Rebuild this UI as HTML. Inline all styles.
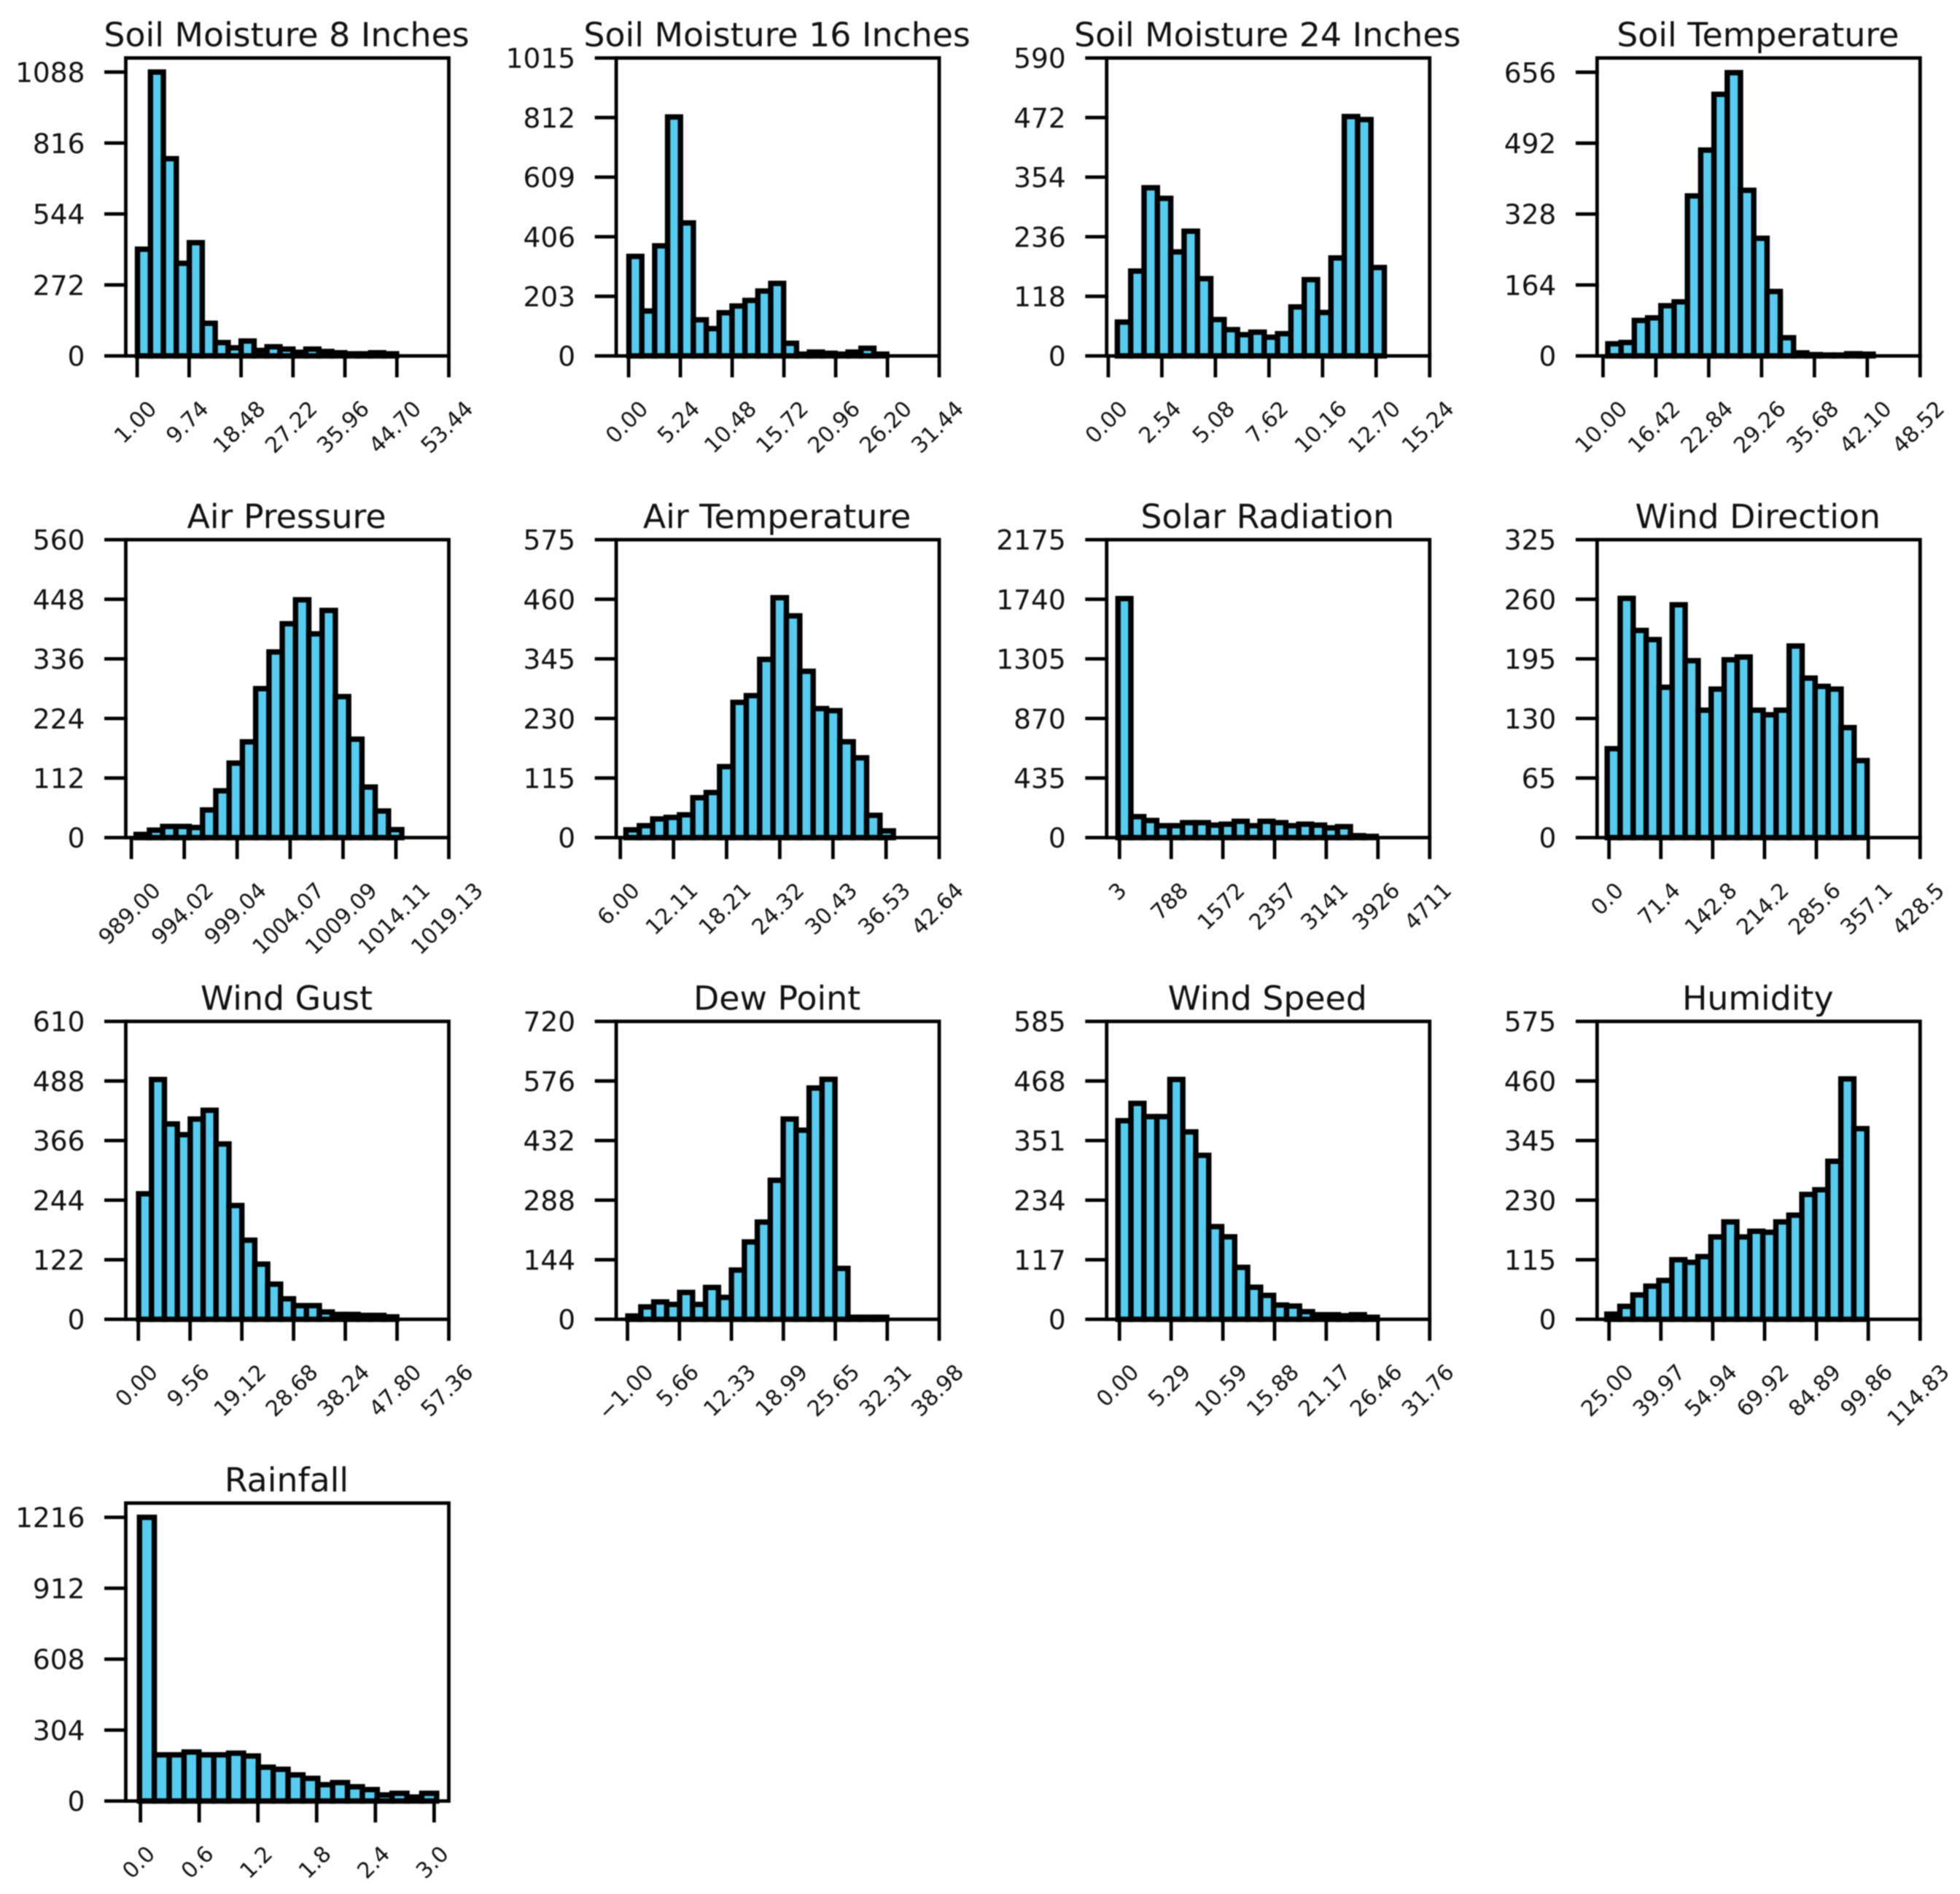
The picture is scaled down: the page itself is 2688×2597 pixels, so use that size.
<!DOCTYPE html>
<html lang="en">
<head>
<meta charset="utf-8">
<title>Weather Feature Histograms</title>
<style>
html,body{margin:0;padding:0;background:#fff;}
#chart{display:block;width:2688px;height:2597px;filter:blur(0.8px);}
text{font-family:"DejaVu Sans","Liberation Sans",sans-serif;fill:#111;}
</style>
</head>
<body>
<svg id="chart" xmlns="http://www.w3.org/2000/svg" width="2688" height="2597" viewBox="0 0 2688 2597"></svg>
<script>
const soilMoisture8Counts=[409,1088,756,355,434,125,51,31,57,21,35,26,14,26,17,12,8,8,12,8];
const soilMoisture16Counts=[339,153,375,814,453,123,93,147,170,189,221,247,43,6,13,9,6,13,26,6];
const soilMoisture24Counts=[67,168,333,312,206,247,153,72,52,42,47,37,44,97,151,86,194,474,468,175];
const soilTemperatureCounts=[28,31,82,88,116,125,370,476,605,655,383,272,149,42,7,3,2,2,5,4];
const airPressureCounts=[6,14,21,21,19,52,88,140,180,280,349,402,447,383,427,265,185,95,50,15];
const airTemperatureCounts=[15,23,36,39,44,77,87,137,261,274,344,463,428,321,249,245,185,154,43,13];
const solarRadiationCounts=[1745,153,125,87,87,109,109,91,98,119,87,119,109,87,98,91,71,80,14,9];
const windDirectionCounts=[97,261,226,216,164,254,193,139,162,194,197,139,134,139,209,174,165,162,120,84];
const windGustCounts=[257,491,400,378,410,428,359,233,162,113,72,42,28,28,15,10,10,8,8,5];
const dewPointCounts=[8,30,42,36,65,36,77,53,119,187,235,336,484,457,559,580,123,5,5,5];
const windSpeedCounts=[390,424,398,398,471,368,322,182,162,102,63,47,28,26,15,9,9,7,9,4];
const humidityCounts=[10,25,47,64,75,115,110,121,159,188,159,170,168,188,201,241,250,305,464,368];
const rainfallCounts=[1216,198,198,210,198,198,205,193,145,136,112,97,70,79,61,49,26,33,17,33];

const soilMoisture8YTicks=["0","272","544","816","1088"];
const soilMoisture16YTicks=["0","203","406","609","812","1015"];
const soilMoisture24YTicks=["0","118","236","354","472","590"];
const soilTemperatureYTicks=["0","164","328","492","656"];
const airPressureYTicks=["0","112","224","336","448","560"];
const airTemperatureYTicks=["0","115","230","345","460","575"];
const solarRadiationYTicks=["0","435","870","1305","1740","2175"];
const windDirectionYTicks=["0","65","130","195","260","325"];
const windGustYTicks=["0","122","244","366","488","610"];
const dewPointYTicks=["0","144","288","432","576","720"];
const windSpeedYTicks=["0","117","234","351","468","585"];
const humidityYTicks=["0","115","230","345","460","575"];
const rainfallYTicks=["0","304","608","912","1216"];

const soilMoisture8XTicks=["1.00","9.74","18.48","27.22","35.96","44.70","53.44"];
const soilMoisture16XTicks=["0.00","5.24","10.48","15.72","20.96","26.20","31.44"];
const soilMoisture24XTicks=["0.00","2.54","5.08","7.62","10.16","12.70","15.24"];
const soilTemperatureXTicks=["10.00","16.42","22.84","29.26","35.68","42.10","48.52"];
const airPressureXTicks=["989.00","994.02","999.04","1004.07","1009.09","1014.11","1019.13"];
const airTemperatureXTicks=["6.00","12.11","18.21","24.32","30.43","36.53","42.64"];
const solarRadiationXTicks=["3","788","1572","2357","3141","3926","4711"];
const windDirectionXTicks=["0.0","71.4","142.8","214.2","285.6","357.1","428.5"];
const windGustXTicks=["0.00","9.56","19.12","28.68","38.24","47.80","57.36"];
const dewPointXTicks=["\u22121.00","5.66","12.33","18.99","25.65","32.31","38.98"];
const windSpeedXTicks=["0.00","5.29","10.59","15.88","21.17","26.46","31.76"];
const humidityXTicks=["25.00","39.97","54.94","69.92","84.89","99.86","114.83"];
const rainfallXTicks=["0.0","0.6","1.2","1.8","2.4","3.0"];

const panelTitles=["Soil Moisture 8 Inches","Soil Moisture 16 Inches","Soil Moisture 24 Inches","Soil Temperature","Air Pressure","Air Temperature","Solar Radiation","Wind Direction","Wind Gust","Dew Point","Wind Speed","Humidity","Rainfall"];
const panelCounts=[soilMoisture8Counts,soilMoisture16Counts,soilMoisture24Counts,soilTemperatureCounts,airPressureCounts,airTemperatureCounts,solarRadiationCounts,windDirectionCounts,windGustCounts,dewPointCounts,windSpeedCounts,humidityCounts,rainfallCounts];
const panelYTicks=[soilMoisture8YTicks,soilMoisture16YTicks,soilMoisture24YTicks,soilTemperatureYTicks,airPressureYTicks,airTemperatureYTicks,solarRadiationYTicks,windDirectionYTicks,windGustYTicks,dewPointYTicks,windSpeedYTicks,humidityYTicks,rainfallYTicks];
const panelXTicks=[soilMoisture8XTicks,soilMoisture16XTicks,soilMoisture24XTicks,soilTemperatureXTicks,airPressureXTicks,airTemperatureXTicks,solarRadiationXTicks,windDirectionXTicks,windGustXTicks,dewPointXTicks,windSpeedXTicks,humidityXTicks,rainfallXTicks];
const panelBinStarts=[1.05,0.03,0.43,10.58,989.45,6.65,-20,-2.5,0.05,-0.95,-0.15,24.37,-0.01];
const panelBinWidths=[2.18,1.305,0.633,1.612,1.261,1.536,196,17.9,2.385,1.66,1.3275,3.754,0.1518];
const panelXMins=[-0.92,-1.255,-0.077,9.28,988.47,5.53,-192,-16.4,-2.32,-2.445,-1.31,21.55,-0.15];
const panelXMaxs=[53.44,31.44,15.24,48.52,1019.13,42.64,4711,428.5,57.36,38.98,31.76,114.83,3.15];
const panelYMaxs=[1142,1015,590,689,560,575,2175,325,610,720,585,575,1277];

const svg=document.getElementById('chart');
const NS='http://www.w3.org/2000/svg';
const plotLeft0=172.5,colPitch=672.6,plotW=443;
const plotTop0=79.5,rowPitch=660.5,plotH=408.5;
const barFill='#56cdf0',ink='#000',spineW=4.8,tickW=4.8,tickLen=27,barStroke=7.4;
const yFont=37.5,xFont=30,titleFont=45.8;

function make(tag,parent){
  const el=document.createElementNS(NS,tag);
  parent.appendChild(el);
  return el;
}
function line(parent,x1,y1,x2,y2,w){
  const el=make('line',parent);
  el.setAttribute('x1',x1);
  el.setAttribute('y1',y1);
  el.setAttribute('x2',x2);
  el.setAttribute('y2',y2);
  el.setAttribute('stroke',ink);
  el.setAttribute('stroke-width',w);
  el.setAttribute('stroke-linecap','square');
  return el;
}
function slug(s){return s.toLowerCase().replace(/\s+/g,'-');}
function tickValue(s){return parseFloat(s.replace('\u2212','-'));}

panelTitles.forEach(function(title,i){
  const left=plotLeft0+(i%4)*colPitch;
  const top=plotTop0+Math.floor(i/4)*rowPitch;
  const bottom=top+plotH;
  const right=left+plotW;
  const xMin=panelXMins[i],xMax=panelXMaxs[i],yMax=panelYMaxs[i];
  const xScale=function(v){return left+(v-xMin)/(xMax-xMin)*plotW;};
  const yScale=function(v){return bottom-v/yMax*plotH;};

  const g=make('g',svg);
  
  

  const t=make('text',g);
  t.textContent=title;
  t.setAttribute('x',left+plotW/2-1);
  t.setAttribute('y',top-16);
  t.setAttribute('text-anchor','middle');
  t.setAttribute('font-size',titleFont);
  
  

  const bars=make('g',g);
  
  
  panelCounts[i].forEach(function(count,b){
    const x0=xScale(panelBinStarts[i]+b*panelBinWidths[i]);
    const x1=xScale(panelBinStarts[i]+(b+1)*panelBinWidths[i]);
    const r=make('rect',bars);
    r.setAttribute('x',x0);
    r.setAttribute('y',yScale(count));
    r.setAttribute('width',x1-x0);
    r.setAttribute('height',bottom-yScale(count));
    r.setAttribute('fill',barFill);
    r.setAttribute('stroke',ink);
    r.setAttribute('stroke-width',barStroke);
    r.setAttribute('stroke-linejoin','miter');
    
    
  });

  const yAxis=make('g',g);
  
  
  panelYTicks[i].forEach(function(label){
    const y=yScale(tickValue(label));
    const tick=line(yAxis,left-tickLen,y,left,y,tickW);
    
    
    const tx=make('text',yAxis);
    tx.textContent=label;
    tx.setAttribute('x',left-56);
    tx.setAttribute('y',y+yFont*0.365);
    tx.setAttribute('text-anchor','end');
    tx.setAttribute('font-size',yFont);
    
    
  });

  const xAxis=make('g',g);
  
  
  panelXTicks[i].forEach(function(label){
    const x=xScale(tickValue(label));
    const tick=line(xAxis,x,bottom,x,bottom+tickLen,tickW);
    
    
    const tx=make('text',xAxis);
    tx.textContent=label;
    tx.setAttribute('text-anchor','middle');
    tx.setAttribute('font-size',xFont);
    const w=tx.getComputedTextLength();
    const half=(w+xFont)*0.7071/2;
    const cx=x-3;
    const cy=bottom+56+half;
    tx.setAttribute('x',cx);
    tx.setAttribute('y',cy+xFont*0.365);
    tx.setAttribute('transform','rotate(-45 '+cx+' '+cy+')');
    
    
  });

  const frame=make('rect',g);
  frame.setAttribute('x',left);
  frame.setAttribute('y',top);
  frame.setAttribute('width',plotW);
  frame.setAttribute('height',plotH);
  frame.setAttribute('fill','none');
  frame.setAttribute('stroke',ink);
  frame.setAttribute('stroke-width',spineW);
  
  
});
</script>
</body>
</html>
